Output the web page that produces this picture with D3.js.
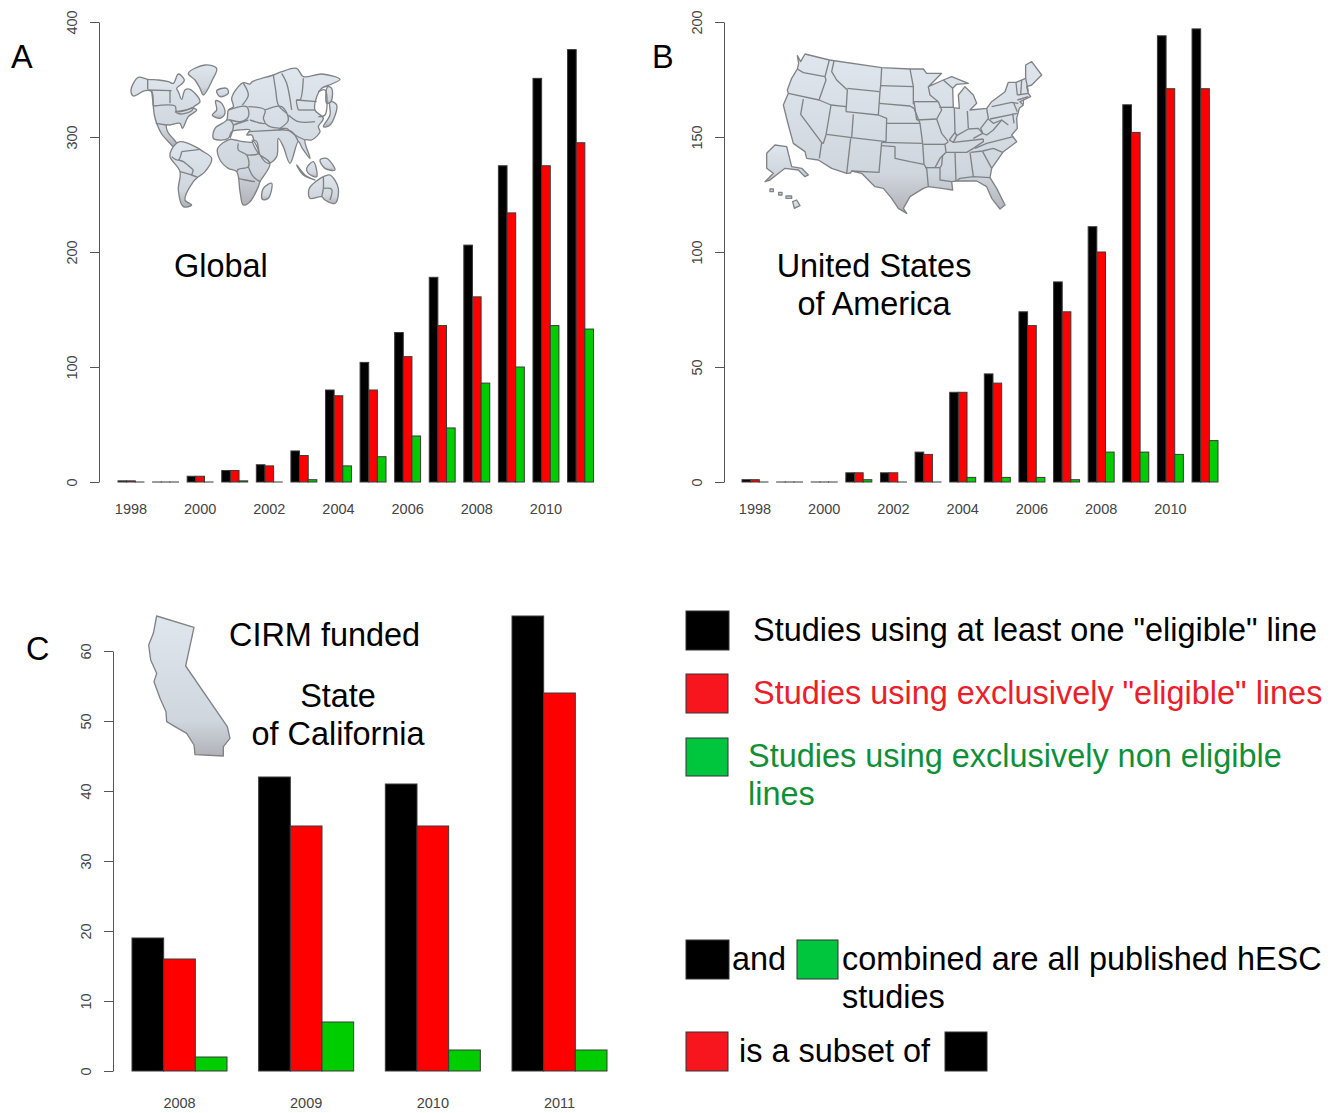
<!DOCTYPE html>
<html>
<head>
<meta charset="utf-8">
<script src="https://cdnjs.cloudflare.com/ajax/libs/d3/7.8.5/d3.min.js"></script>
<style>
  html, body { margin: 0; padding: 0; background: #fff; }
  text { font-family: "Liberation Sans", sans-serif; }
</style>
</head>
<body>
<div id="chart"></div>
<script>
// Data
const yearsLong = ["1998","1999","2000","2001","2002","2003","2004","2005","2006","2007","2008","2009","2010","2011"];
const yearsShort = ["2008","2009","2010","2011"];
const seriesKeys = ["atLeastOne", "exclusive", "nonEligible"];

const globalAtLeastOne = [1,0,5,10,15,27,80,104,130,178,206,275,351,376];
const globalExclusive = [1,0,5,10,14,23,75,80,109,136,161,234,275,295];
const globalNonEligible = [0,0,0,1,0,2,14,22,40,47,86,100,136,133];

const usAtLeastOne = [1,0,0,4,4,13,39,47,74,87,111,164,194,197];
const usExclusive = [1,0,0,4,4,12,39,43,68,74,100,152,171,171];
const usNonEligible = [0,0,0,1,0,0,2,2,2,1,13,13,12,18];

const cirmAtLeastOne = [19,42,41,65];
const cirmExclusive = [16,35,35,54];
const cirmNonEligible = [2,7,3,3];

const globalTicks = [0,100,200,300,400];
const usTicks = [0,50,100,150,200];
const cirmTicks = [0,10,20,30,40,50,60];

const americasLand = [
  "18,95 25,70 40,52 68,58 100,60 130,65 145,70 160,42 178,60 170,72 155,85 160,95 170,118 180,90 195,88 225,125 205,142 215,150 190,170 172,205 165,190 135,195 125,195 128,215 148,240 155,250 148,262 135,250 110,222 95,190 88,165 85,140 80,95 60,92 35,105 25,108",
  "140,268 165,245 215,262 230,272 260,295 240,335 218,352 205,365 180,420 200,435 175,440 160,390 165,335 135,290",
  "190,40 240,15 275,25 262,60 235,105 225,85 210,60",
  "275,92 305,85 310,100 285,110",
  "262,165 275,150 272,122 290,130 300,160 285,175"
];
const americasBorders = [
  "68,60 68,88", "68,90 140,92", "80,92 85,138", "135,92 135,130", "85,138 150,138 155,155 205,142",
  "150,155 190,148 205,142 200,152 165,162 150,155",
  "92,190 125,195",
  "170,275 225,268", "170,275 160,300 140,290", "160,300 175,305 205,330", "165,335 200,345 218,352", "200,345 205,330"
];
const eurasiaLand = [
  "-5,235 0,205 35,180 40,150 55,140 50,115 70,80 85,68 105,72 112,65 175,45 200,35 245,25 265,50 320,42 375,58 350,72 320,85 305,110 300,150 325,175 310,200 315,215 290,240 270,240 285,295 262,265 250,245 225,310 205,260 190,235 185,290 160,310 135,285 125,245 112,240 130,280 165,310 135,365 130,380 105,425 85,435 75,395 65,335 40,325 15,300 8,265 45,238 60,240 85,245 115,245 110,225 95,225 105,210 72,210 50,215 40,235 10,240",
  "145,385 170,370 160,415 142,418",
  "345,125 365,135 345,195 325,200 345,165",
  "338,80 350,85 348,125 335,130",
  "245,315 270,345 300,360 265,345",
  "275,325 295,305 305,350 280,340",
  "315,300 335,295 360,330 330,325",
  "283,385 325,350 345,345 370,385 360,430 330,420 320,410 285,415"
];
const eurasiaBorders = [
  "85,70 100,105 82,135", "40,150 95,140 100,170 75,185 45,180 35,180", "55,195 100,180", "45,180 55,195 45,235",
  "175,45 182,90 190,135 215,160", "100,140 150,150 145,175 150,190 105,180",
  "100,215 190,210", "150,190 165,200 195,205 215,205 190,210", "150,150 200,140 220,180 195,205",
  "200,40 215,70 230,150", "265,55 255,120 245,120 250,150", "245,120 305,125", "250,150 300,150",
  "220,165 250,185 300,185", "215,205 240,225 270,240", "190,210 230,215 250,245",
  "70,250 70,270 95,285 100,320 70,328 65,335", "118,245 130,280 95,285", "100,320 115,350 135,365", "70,355 90,360 120,365",
  "325,350 325,385 320,410", "325,385 350,388 345,420", "310,95 330,90 330,165 310,170"
];
const usLand = [
  "112,32 122,50 135,27 208,45 365,68 450,72 490,72 500,85 545,85 505,125 550,105 575,95 625,115 590,118 578,130 580,188 598,190 595,150 615,125 640,150 650,175 630,195 680,190 695,170 735,140 745,112 768,112 797,100 797,60 815,50 845,90 815,120 800,125 805,145 812,155 780,170 790,180 778,190 770,220 772,250 755,270 770,290 730,320 695,370 690,398 710,430 735,480 720,492 695,460 680,425 650,408 590,408 575,410 578,435 545,430 505,425 490,430 450,455 430,490 440,505 415,490 395,460 370,430 345,425 330,410 305,385 275,378 272,384 260,385 215,370 175,345 140,340 135,320 100,295 85,240 70,180 85,145 82,135 95,100 112,72 116,55",
  "20,325 45,300 80,305 95,365 125,370 145,390 135,395 115,375 75,370 30,405 15,410 40,385 20,370",
  "30,432 40,432 40,440 30,440",
  "56,442 66,442 66,450 56,450",
  "78,453 95,453 95,460 78,460",
  "98,470 110,465 120,482 103,490"
];
const usBorders = [
  "112,72 130,83 195,95", "208,45 195,95 198,105 177,165", "85,145 177,165 213,180 258,185",
  "130,162 122,208 185,293 178,340", "213,180 198,270 190,295 185,293",
  "222,48 215,80 230,105 262,135 258,200", "262,130 358,140", "365,68 362,122 360,138 355,210",
  "362,122 460,125", "358,175 450,183 462,190", "450,72 460,125 460,178",
  "258,200 355,210 380,220 378,290", "280,208 275,278", "200,268 275,278 378,290", "272,280 260,385",
  "365,292 357,382 275,378", "365,292 488,295", "365,302 405,305 405,340 450,350 492,358",
  "488,295 492,358 500,370 505,425", "380,235 480,235", "462,190 480,235 488,295",
  "462,170 535,170", "470,225 530,222", "462,170 470,225", "535,170 545,195 530,222",
  "505,125 510,150 535,170", "538,187 580,187", "550,105 578,130",
  "530,222 545,265 565,290", "490,298 555,298", "583,190 585,262 568,285",
  "622,198 625,250", "585,262 590,272 625,252 655,250 668,265", "568,285 580,292 590,272",
  "680,190 685,220 662,250 668,265", "580,292 670,282", "558,322 620,322 640,310 670,290 670,282",
  "640,280 668,265", "565,290 555,298 558,322 540,340 525,368", "495,368 540,368",
  "540,368 540,405 575,410", "548,330 545,360 540,368", "585,322 588,408", "630,322 640,395",
  "590,408 600,400 640,395 690,398", "668,320 695,370", "632,322 668,318 700,310 728,322",
  "645,310 680,295 760,275", "668,265 680,270 700,255 725,225 745,240", "685,222 700,235 725,225",
  "690,222 772,205", "695,185 755,172 775,175", "760,172 772,200",
  "768,112 772,150", "785,105 782,150", "797,100 805,140", "772,150 805,145", "772,165 805,155",
  "790,165 790,178", "758,205 762,235"
];
const californiaLand = [
  "50,18 162,52 137,168 262,350 270,385 250,410 250,438 165,434 162,405 140,370 105,350 80,335 78,305 60,265 42,215 50,190 32,150 26,105 40,70"
];

const width = 1336, height = 1113;
const barColors = { atLeastOne: "#000000", exclusive: "#ff0000", nonEligible: "#00cd00" };

const svg = d3.select("#chart").append("svg")
    .attr("width", width)
    .attr("height", height)
    .style("display", "block");

const defs = svg.append("defs");
const grad = defs.append("linearGradient")
    .attr("id", "mapFill")
    .attr("x1", 0).attr("y1", 0).attr("x2", 0).attr("y2", 1);
grad.append("stop").attr("offset", "0%").attr("stop-color", "#e0e6ee");
grad.append("stop").attr("offset", "75%").attr("stop-color", "#d0d6de");
grad.append("stop").attr("offset", "100%").attr("stop-color", "#b0b2b7");

defs.append("filter").attr("id", "soft")
    .append("feGaussianBlur").attr("stdDeviation", 0.35);

const points = s => s.split(" ").map(p => p.split(",").map(Number));

// smooth = true rounds the traced corners, for the world's coastlines
function drawMap(land, borders, x, y, smooth) {
    const closedLine = d3.line().curve(smooth ? d3.curveCatmullRomClosed.alpha(0.5) : d3.curveLinearClosed);
    const openLine = d3.line().curve(smooth ? d3.curveCatmullRom.alpha(0.5) : d3.curveLinear);
    const g = svg.append("g")
        .attr("transform", `translate(${x},${y}) scale(${1 / 3})`)
        .attr("filter", "url(#soft)")
        .attr("stroke", "#808386")
        .attr("stroke-width", 4)
        .attr("stroke-linejoin", "round");
    g.selectAll(".land")
        .data(land)
        .enter()
        .append("path")
        .attr("class", "land")
        .attr("d", d => closedLine(points(d)))
        .attr("fill", "url(#mapFill)");
    g.selectAll(".border")
        .data(borders)
        .enter()
        .append("path")
        .attr("class", "border")
        .attr("d", d => openLine(points(d)))
        .attr("fill", "none");
}

// One R-style barplot: left axis with turned labels, years below without a line
function drawPanel({ years, values, ticks, yMax, axisX, barsLeft, barsRight, yZero, yTop, labelEvery, labelY }) {
    const x0 = d3.scaleBand().domain(years).range([barsLeft, barsRight]).paddingInner(0.25).paddingOuter(0);
    const x1 = d3.scaleBand().domain(seriesKeys).range([0, x0.bandwidth()]);
    const y = d3.scaleLinear().domain([0, yMax]).range([yZero, yTop]);

    const groups = svg.append("g")
        .selectAll("g")
        .data(years)
        .enter()
        .append("g")
        .attr("transform", d => `translate(${x0(d)},0)`);

    groups.selectAll("rect")
        .data((d, i) => seriesKeys.map((k, j) => ({ key: k, value: values[j][i] })))
        .enter()
        .append("rect")
        .attr("x", d => x1(d.key))
        .attr("y", d => y(d.value))
        .attr("width", x1.bandwidth())
        // a rect of height 0 draws nothing, R still leaves a line for zero bars
        .attr("height", d => Math.max(y(0) - y(d.value), 0.01))
        .attr("fill", d => barColors[d.key])
        .attr("stroke", "#3a3a3a")
        .attr("stroke-width", 1);

    const yAxis = svg.append("g")
        .attr("transform", `translate(${axisX},0)`)
        .call(d3.axisLeft(y).tickValues(ticks).tickSize(9).tickSizeOuter(0).tickPadding(0));
    yAxis.selectAll("path, line").attr("stroke", "#555");
    yAxis.selectAll("text")
        .attr("transform", "translate(-27,0) rotate(-90)")
        .attr("x", 0).attr("y", 0).attr("dy", "0.35em")
        .attr("text-anchor", "middle")
        .attr("fill", "#444")
        .style("font-size", "14.5px")
        .style("font-family", "'Liberation Sans', sans-serif");

    const xAxis = svg.append("g")
        .attr("transform", `translate(0,${labelY})`)
        .call(d3.axisBottom(x0).tickSize(0).tickPadding(0)
            .tickFormat((d, i) => (i % labelEvery === 0 ? d : "")));
    xAxis.select(".domain").remove();
    xAxis.selectAll("text")
        .attr("fill", "#444")
        .style("font-size", "14.5px")
        .style("font-family", "'Liberation Sans', sans-serif");
}

drawPanel({
    years: yearsLong, values: [globalAtLeastOne, globalExclusive, globalNonEligible],
    ticks: globalTicks, yMax: 400, axisX: 99, barsLeft: 118, barsRight: 593.5,
    yZero: 482, yTop: 22, labelEvery: 2, labelY: 504
});
drawPanel({
    years: yearsLong, values: [usAtLeastOne, usExclusive, usNonEligible],
    ticks: usTicks, yMax: 200, axisX: 724, barsLeft: 742, barsRight: 1218,
    yZero: 482, yTop: 22, labelEvery: 2, labelY: 504
});
drawPanel({
    years: yearsShort, values: [cirmAtLeastOne, cirmExclusive, cirmNonEligible],
    ticks: cirmTicks, yMax: 60, axisX: 113, barsLeft: 132, barsRight: 607,
    yZero: 1071, yTop: 651, labelEvery: 1, labelY: 1098
});

drawMap(americasLand, americasBorders, 125, 60, true);
drawMap(eurasiaLand, eurasiaBorders, 215, 60, true);
drawMap(usLand, usBorders, 760, 45, false);
drawMap(californiaLand, [], 140, 610, false);

// Titles, panel letters and legend text
const labels = [
    { t: "A", x: 11, y: 68 }, { t: "B", x: 652, y: 68 }, { t: "C", x: 26, y: 660 },
    { t: "Global", x: 174, y: 277 },
    { t: "United States", x: 874, y: 277, a: "middle" },
    { t: "of America", x: 874, y: 315, a: "middle" },
    { t: "CIRM funded", x: 229, y: 646 },
    { t: "State", x: 338, y: 707, a: "middle" },
    { t: "of California", x: 338, y: 745, a: "middle" },
    { t: "Studies using at least one \"eligible\" line", x: 753, y: 641 },
    { t: "Studies using exclusively \"eligible\" lines", x: 753, y: 704, c: "#e9202a" },
    { t: "Studies using exclusively non eligible", x: 748, y: 767, c: "#0f9038" },
    { t: "lines", x: 748, y: 805, c: "#0f9038" },
    { t: "and", x: 732, y: 970 },
    { t: "combined are all published hESC", x: 842, y: 970 },
    { t: "studies", x: 842, y: 1008 },
    { t: "is a subset of", x: 739, y: 1062 }
];
svg.append("g").selectAll("text")
    .data(labels)
    .enter()
    .append("text")
    .attr("x", d => d.x)
    .attr("y", d => d.y)
    .attr("text-anchor", d => d.a || "start")
    .attr("fill", d => d.c || "#000")
    .style("font-size", "32.45px")
    .text(d => d.t);

// Legend swatches
const swatches = [
    { x: 686, y: 611, w: 43, h: 39, c: "#000000" },
    { x: 686, y: 674, w: 42, h: 39, c: "#f8161e" },
    { x: 686, y: 738, w: 42, h: 38, c: "#00c63e" },
    { x: 686, y: 940, w: 43, h: 39, c: "#000000" },
    { x: 797, y: 940, w: 41, h: 39, c: "#00c63e" },
    { x: 686, y: 1032, w: 42, h: 39, c: "#f8161e" },
    { x: 945, y: 1032, w: 42, h: 39, c: "#000000" }
];
svg.append("g").selectAll("rect")
    .data(swatches)
    .enter()
    .append("rect")
    .attr("x", d => d.x)
    .attr("y", d => d.y)
    .attr("width", d => d.w)
    .attr("height", d => d.h)
    .attr("fill", d => d.c)
    .attr("stroke", "#333")
    .attr("stroke-width", 1);
</script>
</body>
</html>
